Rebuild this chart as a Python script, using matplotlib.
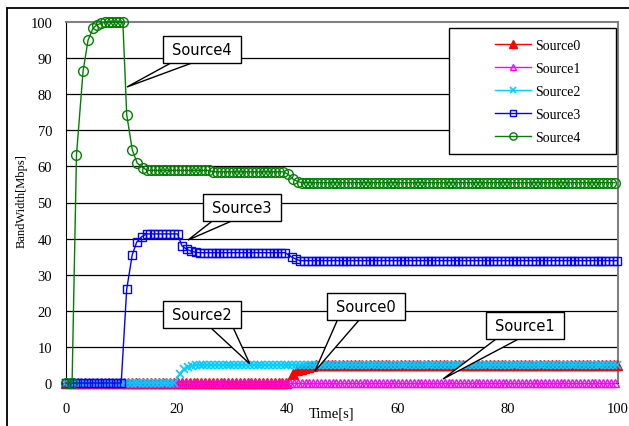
import numpy as np
import matplotlib.pyplot as plt
from matplotlib.patches import Rectangle, Polygon

STEP = 0.7  # sampling interval of the steady parts


def flat(t0, t1, v):
    ts = list(np.arange(t0, t1 + 1e-9, STEP))
    return ts, [v] * len(ts)


def join(*parts):
    t, v = [], []
    for pt, pv in parts:
        t += list(pt)
        v += list(pv)
    return t, v


# --- data ---
src0_t, src0_v = join(flat(0, 40.5, 0.0),
                      ([41.1, 41.8, 42.5, 43.2, 43.9, 44.6], [2.5, 3.6, 4.0, 4.1, 4.3, 4.6]),
                      flat(45.3, 100, 5.0))
src1_t, src1_v = flat(0, 100, 0.0)
src2_t, src2_v = join(flat(0, 20, 0.0),
                      ([20.7, 21.4, 22.1, 22.8], [2.5, 3.8, 4.5, 4.8]),
                      flat(23.5, 100, 5.0))
src3_t, src3_v = join(([0, 1, 2, 3, 4, 5, 6, 7, 8, 9, 10], [0] * 11),
                      ([11.0, 12.0, 12.8, 13.7], [26.0, 35.5, 39.0, 40.5]),
                      flat(14.6, 20.2, 41.3),
                      ([21.0, 21.9, 22.7, 23.5], [38.0, 37.0, 36.5, 36.2]),
                      flat(24.3, 40.2, 36.1),
                      ([41.0, 41.7], [34.8, 34.3]),
                      flat(42.4, 100, 33.9))
src4_t, src4_v = join(([0, 1.1, 1.9, 3.1, 4.0, 4.9, 5.6, 6.3, 7.0, 7.7, 8.3, 9.0, 9.6, 10.3],
                       [0, 0, 63.2, 86.5, 95.0, 98.3, 99.2, 99.6, 99.9, 100, 100, 100, 100, 100]),
                      ([11.0, 12.0, 12.9, 14.0], [74.3, 64.6, 60.9, 59.6]),
                      flat(14.7, 26.0, 58.9),
                      flat(26.7, 39.5, 58.5),
                      ([40.2, 41.1, 42.0], [57.9, 56.5, 55.8]),
                      flat(42.7, 100, 55.5))

names = ['Source0', 'Source1', 'Source2', 'Source3', 'Source4']
colors = ['#FF0000', '#FF00FF', '#00CCFF', '#0000FF', '#008000']
markers = ['^', '^', 'x', 's', 'o']
series = [(src0_t, src0_v), (src1_t, src1_v), (src2_t, src2_v),
          (src3_t, src3_v), (src4_t, src4_v)]

# callouts: label, box centre (data), tip (data), wedge base offsets (px from box centre)
callouts = [
    ('Source4', (24.6, 92.4), (11.05, 82.0), (-29, -7)),
    ('Source3', (31.9, 48.5), (22.1, 39.6), (-29, -9)),
    ('Source2', (24.6, 19.0), (33.3, 5.3), (8, 31)),
    ('Source0', (54.3, 21.1), (45.1, 3.3), (-28, -6)),
    ('Source1', (83.2, 15.9), (68.3, 1.1), (-28, -5)),
]

serif = ['Liberation Serif', 'DejaVu Serif']

fig = plt.figure(figsize=(6.29, 4.27), dpi=100)
ax = fig.add_axes([66 / 629, 1 - 384 / 427, 552 / 629, 361 / 427])

# outer frame
fig.patches.append(Rectangle((7 / 629, -0.05), 1.0, 1 - 9 / 427 + 0.05,
                             transform=fig.transFigure, fill=False,
                             edgecolor='black', linewidth=1.3))

for (t, v), name, c, m in zip(series, names, colors, markers):
    kw = dict(color=c, marker=m, linewidth=1.0, label=name, clip_on=False, zorder=3)
    if name == 'Source0':
        kw.update(markersize=7.5, markerfacecolor=c, markeredgecolor=c)
    elif m == 'x':
        kw.update(markersize=6, markeredgewidth=1.2)
    elif m == 's':
        kw.update(markersize=5.5, markerfacecolor='none', markeredgewidth=1.0)
    elif m == 'o':
        kw.update(markersize=7, markerfacecolor='none', markeredgewidth=1.0)
    else:
        kw.update(markersize=5.5, markerfacecolor='none', markeredgewidth=1.0)
    ax.plot(t, v, **kw)

ax.set_xlim(0, 100)
ax.set_ylim(0, 100)
ax.set_xticks(np.arange(0, 101, 20))
ax.set_yticks(np.arange(0, 101, 10))
for yy in range(10, 100, 10):
    ax.axhline(yy, color='black', linewidth=0.9, zorder=1)
ax.tick_params(length=0, labelsize=10.5)
ax.tick_params(axis='y', pad=10)
ax.tick_params(axis='x', pad=14)
for lab in ax.get_xticklabels() + ax.get_yticklabels():
    lab.set_family(serif)
ax.spines['left'].set_color('black')
ax.spines['bottom'].set_color('black')
for s in ['top', 'right']:
    ax.spines[s].set_color('#808080')
    ax.spines[s].set_linewidth(1.5)

fig.text(332 / 629, 1 - 414 / 427, 'Time[s]', family=serif, fontsize=10.5,
         ha='center', va='center')
fig.text(22 / 629, 1 - 201 / 427, 'BandWidth[Mbps]', family=serif, fontsize=9,
         rotation=90, ha='center', va='center')

# callouts
px_x = 100 / 552
px_y = 100 / 361
bw, bh = 78 * px_x, 27 * px_y
for label, (cx, cy), (tx, ty), (o1, o2) in callouts:
    by = cy - bh / 2
    wedge = Polygon([(cx + o1 * px_x, by + 1 * px_y), (tx, ty), (cx + o2 * px_x, by + 1 * px_y)],
                    closed=True, facecolor='white', edgecolor='black', linewidth=1.0,
                    zorder=6, clip_on=False)
    ax.add_patch(wedge)
    ax.add_patch(Rectangle((cx - bw / 2, by), bw, bh, facecolor='white', edgecolor='black',
                           linewidth=1.0, zorder=7, clip_on=False))
    ax.text(cx, cy, label, ha='center', va='center', fontsize=10.5,
            family='DejaVu Sans', zorder=8)

# legend with its own frame
ax.add_patch(Rectangle((0.694, 0.634), 0.302, 0.349, transform=ax.transAxes,
                       facecolor='white', edgecolor='black', linewidth=1.0, zorder=9))
leg = ax.legend(loc='center', bbox_to_anchor=(0.694 + 0.151 + 0.01, 0.634 + 0.1745),
                frameon=False, prop={'family': serif, 'size': 10},
                handlelength=2.6, handletextpad=0.3, labelspacing=0.72,
                markerscale=0.75)
leg.set_zorder(10)

fig.savefig('out.png', dpi=100)
